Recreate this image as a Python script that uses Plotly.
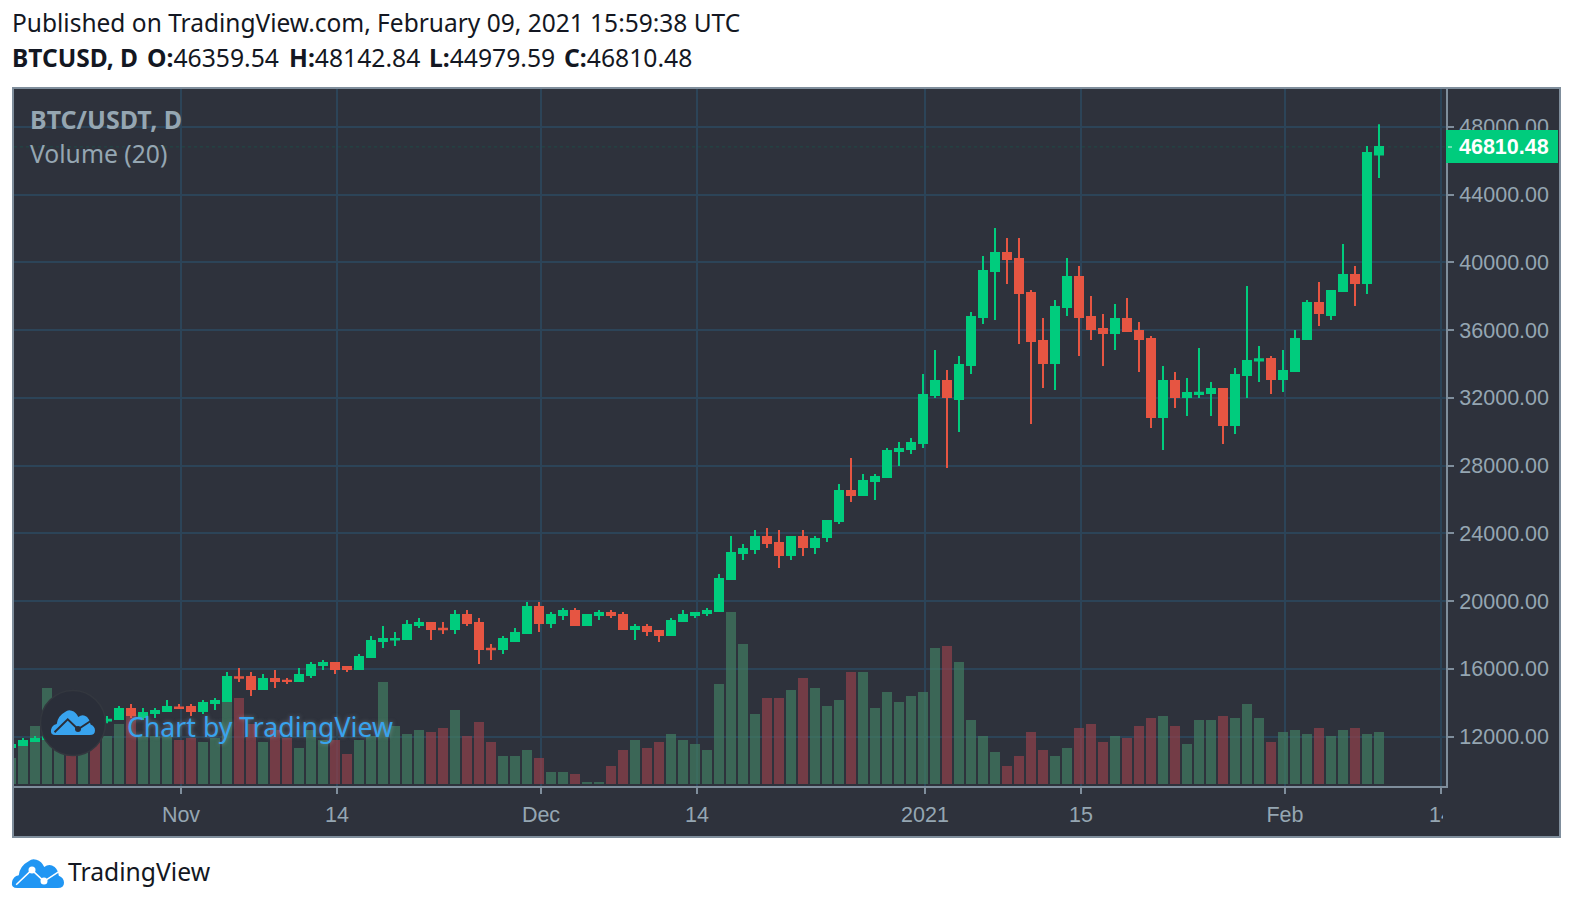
import pandas as pd
import plotly.graph_objects as go

# Daily candles, Oct 18 2020 .. Feb 9 2021
dates = pd.date_range("2020-10-18", periods=115)

opens = [11393, 11511, 11747, 11865, 12160, 12455, 12455, 12720, 12950, 13045, 13635, 13163, 13399, 13517,
         13730, 13753, 13517, 13990, 14108, 15510, 15524, 14816, 15406, 15300, 15288, 15642, 16232, 16350,
         16114, 15996, 16704, 17649, 17730, 17767, 18593, 18711, 18370, 18357, 19183, 18711, 17190, 17176,
         17649, 18121, 19655, 18711, 19183, 19419, 18593, 19183, 19301, 19183, 18357, 18475, 18239, 18003,
         18829, 19183, 19301, 19419, 21308, 22842, 23078, 23787, 23433, 22724, 23787, 23196, 23787, 24731,
         26502, 26265, 27092, 27328, 28862, 28980, 29335, 32167, 32994, 31931, 33938, 36771, 39486, 40548,
         40194, 38187, 35355, 34056, 37361, 39132, 36771, 36063, 35827, 36653, 35945, 35473, 30869, 32994,
         32050, 32230, 32286, 32522, 30397, 33348, 34200, 34292, 33112, 33584, 35473, 37597, 36889, 38306,
         39250, 38778, 46359.54]
highs = [11570, 11924, 12042, 12278, 12514, 12570, 12750, 12870, 13222, 13812, 13931, 13694, 13694, 14167,
         13931, 13931, 14167, 14285, 15819, 16055, 15819, 15701, 15937, 15465, 16055, 16409, 16527, 16409,
         16173, 16881, 17944, 18534, 18180, 18888, 19006, 18770, 18770, 19478, 19478, 19006, 17471, 17944,
         18416, 19950, 19950, 19360, 19596, 19596, 19242, 19478, 19478, 19360, 18652, 18652, 18298, 19006,
         19478, 19360, 19596, 21603, 23846, 23373, 24200, 24318, 24200, 23846, 24200, 23846, 24790, 26915,
         28449, 27505, 27505, 29039, 29393, 29629, 33407, 34823, 33643, 34469, 37066, 40371, 42024, 41433,
         41433, 38364, 36712, 37774, 40253, 39781, 38010, 36948, 37538, 37892, 36476, 35650, 33879, 33525,
         33171, 34941, 32935, 32581, 33761, 38601, 35060, 34469, 34823, 36004, 37774, 38837, 38365, 41079,
         39781, 46863, 48142.84]
lows = [11334, 11452, 11688, 11806, 12042, 12160, 12396, 12500, 12790, 12986, 13104, 12986, 13104, 13458,
        13660, 13222, 13340, 13576, 14049, 15229, 14403, 14757, 14875, 15111, 15229, 15465, 15937, 15701,
        15819, 15937, 16645, 17235, 17353, 17708, 18416, 17708, 18062, 18062, 18534, 16291, 16527, 16881,
        17590, 18062, 18180, 18416, 18888, 18534, 18534, 18888, 19006, 18298, 17708, 17944, 17590, 17944,
        18770, 19006, 19124, 19360, 21249, 22429, 22783, 23137, 21957, 22429, 22665, 22783, 23491, 24554,
        25852, 26206, 25970, 27269, 27977, 28685, 29040, 31990, 27859, 29984, 33407, 36358, 36594, 38719,
        35177, 30456, 32581, 32463, 36830, 34469, 35414, 33879, 34823, 35886, 33525, 30220, 28921, 31400,
        30928, 31990, 30928, 29276, 29866, 31990, 32935, 32227, 32345, 33525, 35414, 36240, 36594, 38247,
        37420, 38128, 44979.59]
closes = [11511, 11747, 11865, 12101, 12337, 12260, 12632, 12600, 13000, 13635, 13281, 13399, 13517, 13753,
          13700, 13517, 13990, 14108, 15524, 15480, 14816, 15406, 15288, 15280, 15642, 16232, 16350, 15996,
          15996, 16704, 17649, 17767, 17760, 18593, 18711, 18357, 18340, 19183, 18711, 17176, 17160, 17767,
          18121, 19655, 18711, 19183, 19419, 18593, 19183, 19301, 19183, 18357, 18475, 18239, 18003, 18829,
          19183, 19301, 19419, 21308, 22842, 23078, 23787, 23433, 22724, 23787, 23196, 23669, 24731, 26502,
          26265, 27092, 27328, 28862, 28980, 29334, 32167, 32994, 32049, 33938, 36771, 39486, 40548, 40194,
          38187, 35355, 34056, 37361, 39132, 36771, 36063, 35827, 36653, 35945, 35473, 30869, 32994, 32049,
          32286, 32300, 32522, 30397, 33348, 34174, 34270, 33112, 33584, 35473, 37597, 37007, 38306, 39250,
          38778, 46450, 46810.48]
volumes = [26, 38, 58, 96, 50, 40, 45, 45, 48, 60, 71, 48, 48, 48,
           44, 46, 42, 46, 82, 86, 60, 42, 54, 46, 36, 54, 44, 44,
           30, 44, 48, 102, 58, 50, 54, 52, 56, 74, 48, 62, 42, 28,
           28, 34, 26, 12, 12, 10, 2, 2, 18, 34, 44, 36, 42, 50,
           44, 40, 34, 100, 172, 140, 70, 86, 86, 94, 106, 96, 78, 84,
           112, 112, 76, 92, 82, 88, 92, 136, 138, 122, 64, 48, 32, 18,
           28, 52, 34, 28, 36, 56, 60, 42, 48, 46, 58, 66, 68, 58,
           40, 64, 64, 68, 66, 80, 66, 42, 52, 54, 50, 56, 48, 54,
           56, 50, 52]
volumes = [v * 1000 for v in volumes]

price_ticks = [12000, 16000, 20000, 24000, 28000, 32000, 36000, 40000, 44000, 48000]
date_ticks = ["2020-11-01 04:00", "2020-11-14 04:00", "2020-12-01 04:00", "2020-12-14 04:00",
              "2021-01-02 04:00", "2021-01-15 04:00", "2021-02-01 04:00", "2021-02-14 04:00"]
date_labels = ["Nov", "14", "Dec", "14", "2021", "15", "Feb", "14"]

GREEN = "#00cc7d"
RED = "#e65542"
PANEL = "#2e323c"
GRID = "#2c4458"
FRAME = "#7f8e9c"
LABEL = "#95a6b2"
BLUE = "#2196f3"
UI_FONT = "Noto Sans"
AXIS_FONT = "Liberation Sans"

# plot area in page pixels
L, R, T, B = 14, 1446, 89, 786


def X(px):
    return (px - L) / (R - L)


def Y(py):
    return (B - py) / (B - T)


# cloud outline, unit box
def cloud_path(x0, y0, w, h):
    def p(u, v):
        return f"{X(x0 + u * w):.5f},{Y(y0 + v * h):.5f}"
    return (f"M{p(.10, 1)} Q{p(-.02, 1)} {p(0, .80)} Q{p(.02, .60)} {p(.13, .56)} "
            f"Q{p(.15, .24)} {p(.32, .08)} Q{p(.39, -.03)} {p(.47, .03)} Q{p(.57, .08)} {p(.62, .28)} "
            f"Q{p(.72, .14)} {p(.82, .28)} Q{p(.89, .40)} {p(.90, .58)} Q{p(1, .65)} {p(1, .82)} "
            f"Q{p(1, 1)} {p(.88, 1)} Z")


def ridge_path(x0, y0, w, h):
    pts = [(.08, .89), (.38, .375), (.615, .77), (.91, .43)]
    return "M" + " L".join(f"{X(x0 + u * w):.5f},{Y(y0 + v * h):.5f}" for u, v in pts)


def dot(x, y, r, color):
    return dict(type="circle", xref="paper", yref="paper", x0=X(x - r), x1=X(x + r), y0=Y(y + r), y1=Y(y - r),
                fillcolor=color, line=dict(width=0), layer="above")


def label(x, y, text, size, color, family=UI_FONT, **kw):
    return dict(xref="paper", yref="paper", x=X(x), y=Y(y), text=text, showarrow=False, xanchor="left",
                yanchor="middle", font=dict(family=family, size=size, color=color, **kw))


fig = go.Figure()

bar_colors = ["rgba(66,124,97,0.7)" if c >= o else "rgba(145,64,74,0.7)" for o, c in zip(opens, closes)]
fig.add_trace(go.Bar(x=dates, y=volumes, marker=dict(color=bar_colors, line=dict(width=0)), yaxis="y",
                     hoverinfo="skip"))
fig.add_trace(go.Candlestick(x=dates, open=opens, high=highs, low=lows, close=closes, yaxis="y2",
                             whiskerwidth=0,
                             increasing=dict(line=dict(color=GREEN, width=2), fillcolor=GREEN),
                             decreasing=dict(line=dict(color=RED, width=2), fillcolor=RED)))

shapes = [
    # panel with its frame
    dict(type="rect", xref="paper", yref="paper", x0=X(13), x1=X(1560), y0=Y(837), y1=Y(88),
         fillcolor=PANEL, line=dict(color=FRAME, width=2), layer="below"),
    # last price line
    dict(type="line", xref="paper", yref="y2", x0=0, x1=1, y0=closes[-1], y1=closes[-1],
         line=dict(color="#1f4a47", width=1, dash="dot"), layer="below"),
    # clipped end of the time axis
    dict(type="rect", xref="paper", yref="paper", x0=X(1443), x1=X(1458), y0=Y(826), y1=Y(796),
         fillcolor=PANEL, line=dict(width=0), layer="above"),
    # last price tag
    dict(type="rect", xref="paper", yref="paper", x0=X(1446), x1=X(1558), y0=Y(163), y1=Y(130),
         fillcolor=GREEN, line=dict(width=0), layer="above"),
    dict(type="line", xref="paper", yref="paper", x0=X(1448), x1=X(1452), y0=Y(147), y1=Y(147),
         line=dict(color="#d8f5ea", width=1), layer="above"),
    # watermark logo
    dict(type="circle", xref="paper", yref="paper", x0=X(40.5), x1=X(105.5), y0=Y(755.5), y1=Y(690.5),
         fillcolor="#2a2e39", line=dict(color="#33373f", width=1.5), layer="above"),
    dict(type="path", xref="paper", yref="paper", path=cloud_path(51, 710, 44, 25),
         fillcolor="#38a3ee", line=dict(width=0), layer="above"),
    dict(type="path", xref="paper", yref="paper", path=ridge_path(51, 710, 44, 25),
         line=dict(color="#2a2e39", width=2), layer="above"),
    dot(78, 729, 3, "#2a2e39"),
    # footer logo
    dict(type="path", xref="paper", yref="paper", path=cloud_path(12, 859, 52, 29),
         fillcolor=BLUE, line=dict(width=0), layer="above"),
    dict(type="path", xref="paper", yref="paper", path=ridge_path(12, 859, 52, 29),
         line=dict(color="white", width=1.5), layer="above"),
    dot(32, 870, 3.5, "white"),
    dot(44, 881, 3.5, "white"),
]

annotations = [
    label(10, 23, "Published on TradingView.com, February 09, 2021 15:59:38 UTC", 24.5, "#131722"),
    label(10, 57, "<b>BTCUSD, D</b>", 24.5, "#131722"),
    label(145, 57, "<b>O:</b>46359.54", 24.7, "#131722"),
    label(287, 57, "<b>H:</b>48142.84", 24.7, "#131722"),
    label(427, 57, "<b>L:</b>44979.59", 24.7, "#131722"),
    label(562, 57, "<b>C:</b>46810.48", 24.7, "#131722"),
    label(28, 119, "<b>BTC/USDT, D</b>", 25, LABEL),
    label(28, 153, "Volume (20)", 24.7, LABEL),
    label(1457, 147, "<b>46810.48</b>", 21.5, "white", family=AXIS_FONT),
    label(125, 726, "Chart by TradingView", 26.7, "#38a3ee", shadow="0 0 4px rgba(150,160,170,0.6)"),
    label(66, 872, "TradingView", 24.7, "#131722"),
]

fig.update_layout(
    width=1574,
    height=910,
    margin=dict(l=L, r=1574 - R, t=T, b=910 - B, pad=0),
    paper_bgcolor="white",
    plot_bgcolor=PANEL,
    showlegend=False,
    boxgap=0.333,
    boxgroupgap=0,
    bargap=2 / 12,
    shapes=shapes,
    annotations=annotations,
    xaxis=dict(
        type="date",
        range=["2020-10-18 06:00", "2021-02-14 14:00"],
        rangeslider=dict(visible=False),
        tickmode="array",
        tickvals=date_ticks,
        ticktext=date_labels,
        showgrid=True,
        gridcolor=GRID,
        gridwidth=2,
        zeroline=False,
        showline=True,
        linecolor=FRAME,
        linewidth=2,
        ticks="outside",
        ticklen=6,
        tickwidth=2,
        tickcolor=FRAME,
        ticklabelstandoff=2,
        tickfont=dict(family=AXIS_FONT, size=21.5, color=LABEL),
    ),
    yaxis=dict(range=[-2000, 695000], visible=False, showgrid=False, zeroline=False),
    yaxis2=dict(
        range=[9090, 50227],
        overlaying="y",
        side="right",
        anchor="x",
        tickmode="array",
        tickvals=price_ticks,
        tickformat=".2f",
        showgrid=True,
        gridcolor=GRID,
        gridwidth=2,
        zeroline=False,
        showline=True,
        linecolor=FRAME,
        linewidth=2,
        ticks="outside",
        ticklen=6,
        tickwidth=2,
        tickcolor=FRAME,
        ticklabelstandoff=1,
        tickfont=dict(family=AXIS_FONT, size=21.5, color=LABEL),
    ),
)

# no body margin, the figure fills the window
fig.write_html("out.html", config={"displayModeBar": False},
               post_script="document.body.style.margin = '0';")
